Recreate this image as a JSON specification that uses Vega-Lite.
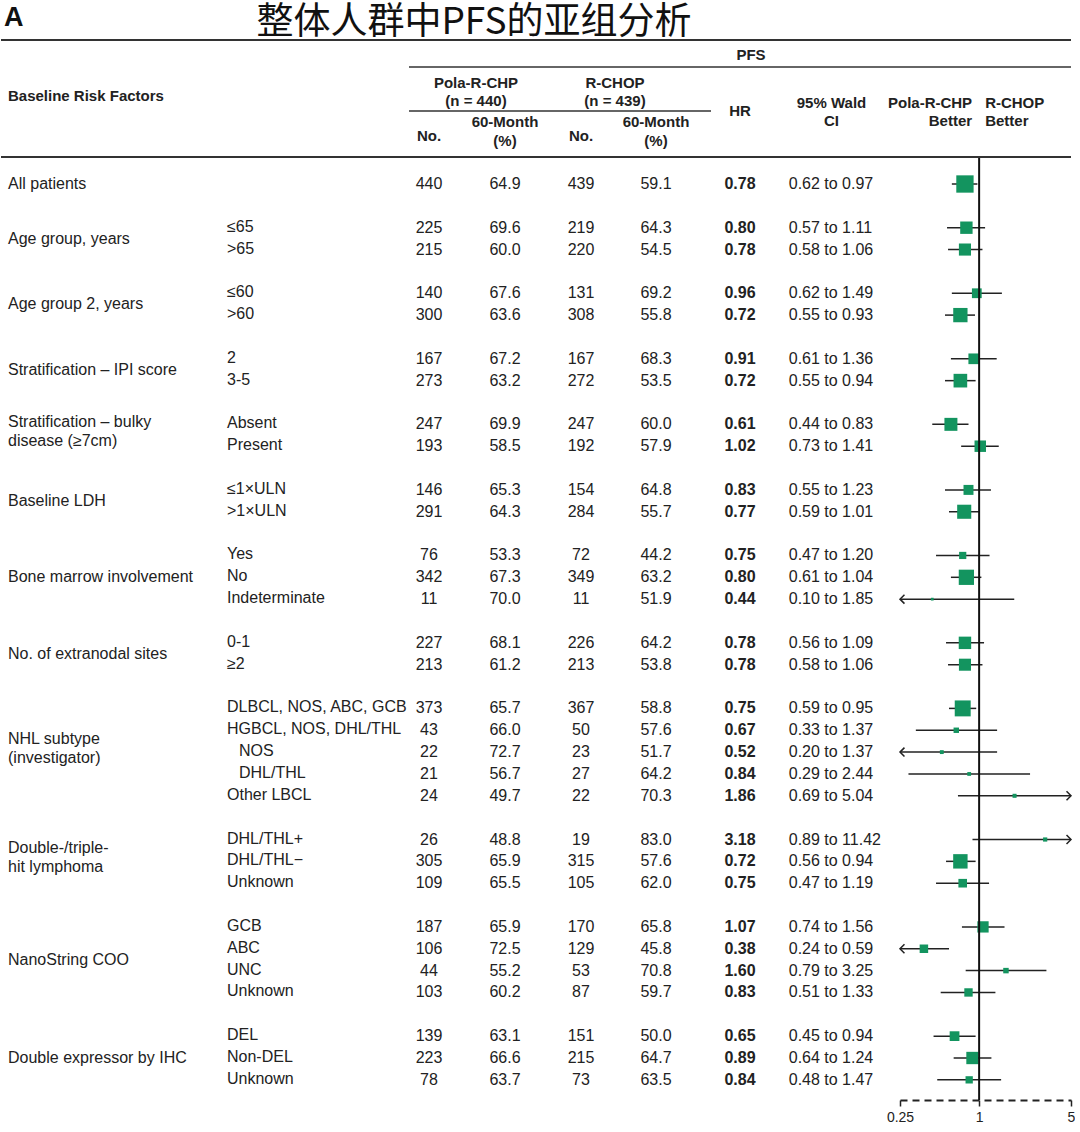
{
  "$schema": "https://vega.github.io/schema/vega-lite/v6.json",
  "padding": 0,
  "background": "white",
  "spacing": 0,
  "bounds": "flush",
  "config": {
    "view": {"stroke": null},
    "text": {"font": "Liberation Sans", "fontSize": 16, "color": "#222", "baseline": "middle"},
    "rule": {"color": "#333"},
    "concat": {"spacing": 0}
  },
  "datasets": {
    "pfs": [
      {"group":"All patients","sub":"","n1":440,"p1":64.9,"n2":439,"p2":59.1,"hr":0.78,"lo":0.62,"hi":0.97,"row":0},
      {"group":"Age group, years","sub":"≤65","n1":225,"p1":69.6,"n2":219,"p2":64.3,"hr":0.80,"lo":0.57,"hi":1.11,"row":2},
      {"group":"Age group, years","sub":">65","n1":215,"p1":60.0,"n2":220,"p2":54.5,"hr":0.78,"lo":0.58,"hi":1.06,"row":3},
      {"group":"Age group 2, years","sub":"≤60","n1":140,"p1":67.6,"n2":131,"p2":69.2,"hr":0.96,"lo":0.62,"hi":1.49,"row":5},
      {"group":"Age group 2, years","sub":">60","n1":300,"p1":63.6,"n2":308,"p2":55.8,"hr":0.72,"lo":0.55,"hi":0.93,"row":6},
      {"group":"Stratification – IPI score","sub":"2","n1":167,"p1":67.2,"n2":167,"p2":68.3,"hr":0.91,"lo":0.61,"hi":1.36,"row":8},
      {"group":"Stratification – IPI score","sub":"3-5","n1":273,"p1":63.2,"n2":272,"p2":53.5,"hr":0.72,"lo":0.55,"hi":0.94,"row":9},
      {"group":"Stratification – bulky\ndisease (≥7cm)","sub":"Absent","n1":247,"p1":69.9,"n2":247,"p2":60.0,"hr":0.61,"lo":0.44,"hi":0.83,"row":11},
      {"group":"Stratification – bulky\ndisease (≥7cm)","sub":"Present","n1":193,"p1":58.5,"n2":192,"p2":57.9,"hr":1.02,"lo":0.73,"hi":1.41,"row":12},
      {"group":"Baseline LDH","sub":"≤1×ULN","n1":146,"p1":65.3,"n2":154,"p2":64.8,"hr":0.83,"lo":0.55,"hi":1.23,"row":14},
      {"group":"Baseline LDH","sub":">1×ULN","n1":291,"p1":64.3,"n2":284,"p2":55.7,"hr":0.77,"lo":0.59,"hi":1.01,"row":15},
      {"group":"Bone marrow involvement","sub":"Yes","n1":76,"p1":53.3,"n2":72,"p2":44.2,"hr":0.75,"lo":0.47,"hi":1.20,"row":17},
      {"group":"Bone marrow involvement","sub":"No","n1":342,"p1":67.3,"n2":349,"p2":63.2,"hr":0.80,"lo":0.61,"hi":1.04,"row":18},
      {"group":"Bone marrow involvement","sub":"Indeterminate","n1":11,"p1":70.0,"n2":11,"p2":51.9,"hr":0.44,"lo":0.10,"hi":1.85,"row":19},
      {"group":"No. of extranodal sites","sub":"0-1","n1":227,"p1":68.1,"n2":226,"p2":64.2,"hr":0.78,"lo":0.56,"hi":1.09,"row":21},
      {"group":"No. of extranodal sites","sub":"≥2","n1":213,"p1":61.2,"n2":213,"p2":53.8,"hr":0.78,"lo":0.58,"hi":1.06,"row":22},
      {"group":"NHL subtype\n(investigator)","sub":"DLBCL, NOS, ABC, GCB","n1":373,"p1":65.7,"n2":367,"p2":58.8,"hr":0.75,"lo":0.59,"hi":0.95,"row":24},
      {"group":"NHL subtype\n(investigator)","sub":"HGBCL, NOS, DHL/THL","n1":43,"p1":66.0,"n2":50,"p2":57.6,"hr":0.67,"lo":0.33,"hi":1.37,"row":25},
      {"group":"NHL subtype\n(investigator)","sub":"NOS","parent":"HGBCL, NOS, DHL/THL","n1":22,"p1":72.7,"n2":23,"p2":51.7,"hr":0.52,"lo":0.20,"hi":1.37,"row":26},
      {"group":"NHL subtype\n(investigator)","sub":"DHL/THL","parent":"HGBCL, NOS, DHL/THL","n1":21,"p1":56.7,"n2":27,"p2":64.2,"hr":0.84,"lo":0.29,"hi":2.44,"row":27},
      {"group":"NHL subtype\n(investigator)","sub":"Other LBCL","n1":24,"p1":49.7,"n2":22,"p2":70.3,"hr":1.86,"lo":0.69,"hi":5.04,"row":28},
      {"group":"Double-/triple-\nhit lymphoma","sub":"DHL/THL+","n1":26,"p1":48.8,"n2":19,"p2":83.0,"hr":3.18,"lo":0.89,"hi":11.42,"row":30},
      {"group":"Double-/triple-\nhit lymphoma","sub":"DHL/THL−","n1":305,"p1":65.9,"n2":315,"p2":57.6,"hr":0.72,"lo":0.56,"hi":0.94,"row":31},
      {"group":"Double-/triple-\nhit lymphoma","sub":"Unknown","n1":109,"p1":65.5,"n2":105,"p2":62.0,"hr":0.75,"lo":0.47,"hi":1.19,"row":32},
      {"group":"NanoString COO","sub":"GCB","n1":187,"p1":65.9,"n2":170,"p2":65.8,"hr":1.07,"lo":0.74,"hi":1.56,"row":34},
      {"group":"NanoString COO","sub":"ABC","n1":106,"p1":72.5,"n2":129,"p2":45.8,"hr":0.38,"lo":0.24,"hi":0.59,"row":35},
      {"group":"NanoString COO","sub":"UNC","n1":44,"p1":55.2,"n2":53,"p2":70.8,"hr":1.60,"lo":0.79,"hi":3.25,"row":36},
      {"group":"NanoString COO","sub":"Unknown","n1":103,"p1":60.2,"n2":87,"p2":59.7,"hr":0.83,"lo":0.51,"hi":1.33,"row":37},
      {"group":"Double expressor by IHC","sub":"DEL","n1":139,"p1":63.1,"n2":151,"p2":50.0,"hr":0.65,"lo":0.45,"hi":0.94,"row":39},
      {"group":"Double expressor by IHC","sub":"Non-DEL","n1":223,"p1":66.6,"n2":215,"p2":64.7,"hr":0.89,"lo":0.64,"hi":1.24,"row":40},
      {"group":"Double expressor by IHC","sub":"Unknown","n1":78,"p1":63.7,"n2":73,"p2":63.5,"hr":0.84,"lo":0.48,"hi":1.47,"row":41}
    ]
  },
  "hconcat": [
    {
      "width": 220, "height": 1100,
      "layer": [
        {"data": {"values": [{}]}, "mark": {"type": "rule", "strokeWidth": 2}, "encoding": {"y": {"datum": -6.59, "type": "quantitative", "scale": {"domain": [-8.421, 41.922], "reverse": true, "nice": false, "zero": false}, "axis": null}}},
        {"data": {"values": [{}]}, "mark": {"type": "rule", "strokeWidth": 2}, "encoding": {"y": {"datum": -1.236, "type": "quantitative", "axis": null}}},
        {"data": {"values": [{}]}, "mark": {"type": "text", "text": "A", "fontSize": 27, "fontWeight": "bold", "align": "left", "dx": 3, "color": "#111"},
         "encoding": {"x": {"datum": 1, "type": "quantitative", "scale": {"domain": [1, 2], "zero": false, "nice": false}, "axis": null}, "y": {"datum": -7.597, "type": "quantitative", "axis": null}}},
        {"data": {"values": [{}]}, "mark": {"type": "text", "text": "Baseline Risk Factors", "fontSize": 15, "fontWeight": "bold", "align": "left", "dx": 7},
         "encoding": {"x": {"datum": 1, "type": "quantitative", "axis": null}, "y": {"datum": -4.027, "type": "quantitative", "axis": null}}},
        {"data": {"name": "pfs"},
         "transform": [{"aggregate": [{"op": "mean", "field": "row", "as": "mid"}], "groupby": ["group"]}, {"filter": "indexof(datum.group, '\\n') < 0"}],
         "mark": {"type": "text", "align": "left", "dx": 7},
         "encoding": {"x": {"datum": 1, "type": "quantitative", "axis": null}, "y": {"field": "mid", "type": "quantitative", "axis": null}, "text": {"field": "group", "type": "nominal"}}},
        {"data": {"name": "pfs"},
         "transform": [{"aggregate": [{"op": "mean", "field": "row", "as": "mid"}], "groupby": ["group"]}, {"filter": "indexof(datum.group, '\\n') >= 0"}],
         "mark": {"type": "text", "align": "left", "dx": 7, "dy": -13, "lineBreak": "\n", "lineHeight": 19},
         "encoding": {"x": {"datum": 1, "type": "quantitative", "axis": null}, "y": {"field": "mid", "type": "quantitative", "axis": null}, "text": {"field": "group", "type": "nominal"}}}
      ]
    },
    {
      "width": 188, "height": 1100,
      "layer": [
        {"data": {"values": [{}]}, "mark": {"type": "rule", "strokeWidth": 2}, "encoding": {"y": {"datum": -6.59, "type": "quantitative", "scale": {"domain": [-8.421, 41.922], "reverse": true, "nice": false, "zero": false}, "axis": null}}},
        {"data": {"values": [{}]}, "mark": {"type": "rule", "strokeWidth": 2}, "encoding": {"y": {"datum": -1.236, "type": "quantitative", "axis": null}}},
        {"data": {"name": "pfs"}, "transform": [{"filter": "!datum.parent"}],
         "mark": {"type": "text", "align": "left", "dx": 6, "dy": -1},
         "encoding": {"x": {"datum": 1, "type": "quantitative", "scale": {"domain": [1, 2], "zero": false, "nice": false}, "axis": null}, "y": {"field": "row", "type": "quantitative", "axis": null}, "text": {"field": "sub", "type": "nominal"}}},
        {"data": {"name": "pfs"}, "transform": [{"filter": "datum.parent"}],
         "mark": {"type": "text", "align": "left", "dx": 18, "dy": -1},
         "encoding": {"x": {"datum": 1, "type": "quantitative", "axis": null}, "y": {"field": "row", "type": "quantitative", "axis": null}, "text": {"field": "sub", "type": "nominal"}}}
      ]
    },
    {
      "width": 40, "height": 1100,
      "layer": [
        {"data": {"values": [{}]}, "mark": {"type": "rule", "strokeWidth": 2}, "encoding": {"y": {"datum": -6.59, "type": "quantitative", "scale": {"domain": [-8.421, 41.922], "reverse": true, "nice": false, "zero": false}, "axis": null}}},
        {"data": {"values": [{}]}, "mark": {"type": "rule", "strokeWidth": 1.5}, "encoding": {"y": {"datum": -5.355, "type": "quantitative", "axis": null}}},
        {"data": {"values": [{}]}, "mark": {"type": "rule", "strokeWidth": 1.3}, "encoding": {"y": {"datum": -3.341, "type": "quantitative", "axis": null}}},
        {"data": {"values": [{}]}, "mark": {"type": "rule", "strokeWidth": 2}, "encoding": {"y": {"datum": -1.236, "type": "quantitative", "axis": null}}},
        {"data": {"values": [{}]}, "mark": {"type": "text", "text": "No.", "fontSize": 15, "fontWeight": "bold"}, "encoding": {"y": {"datum": -2.197, "type": "quantitative", "axis": null}}},
        {"data": {"name": "pfs"}, "mark": {"type": "text"}, "encoding": {"y": {"field": "row", "type": "quantitative", "axis": null}, "text": {"field": "n1", "type": "quantitative"}}}
      ]
    },
    {
      "width": 112, "height": 1100,
      "layer": [
        {"data": {"values": [{}]}, "mark": {"type": "rule", "strokeWidth": 2}, "encoding": {"y": {"datum": -6.59, "type": "quantitative", "scale": {"domain": [-8.421, 41.922], "reverse": true, "nice": false, "zero": false}, "axis": null}}},
        {"data": {"values": [{}]}, "mark": {"type": "rule", "strokeWidth": 1.5}, "encoding": {"y": {"datum": -5.355, "type": "quantitative", "axis": null}}},
        {"data": {"values": [{}]}, "mark": {"type": "rule", "strokeWidth": 1.3}, "encoding": {"y": {"datum": -3.341, "type": "quantitative", "axis": null}}},
        {"data": {"values": [{}]}, "mark": {"type": "rule", "strokeWidth": 2}, "encoding": {"y": {"datum": -1.236, "type": "quantitative", "axis": null}}},
        {"data": {"values": [{}]}, "mark": {"type": "text", "text": "整体人群中PFS的亚组分析", "font": "Noto Sans CJK SC", "fontSize": 37, "color": "#111", "dx": -31}, "encoding": {"y": {"datum": -7.368, "type": "quantitative", "axis": null}}},
        {"data": {"values": [{}]}, "mark": {"type": "text", "text": "Pola-R-CHP", "fontSize": 15, "fontWeight": "bold", "dx": -29}, "encoding": {"y": {"datum": -4.622, "type": "quantitative", "axis": null}}},
        {"data": {"values": [{}]}, "mark": {"type": "text", "text": "(n = 440)", "fontSize": 15, "fontWeight": "bold", "dx": -29}, "encoding": {"y": {"datum": -3.799, "type": "quantitative", "axis": null}}},
        {"data": {"values": [{}]}, "mark": {"type": "text", "text": "60-Month", "fontSize": 15, "fontWeight": "bold"}, "encoding": {"y": {"datum": -2.838, "type": "quantitative", "axis": null}}},
        {"data": {"values": [{}]}, "mark": {"type": "text", "text": "(%)", "fontSize": 15, "fontWeight": "bold"}, "encoding": {"y": {"datum": -1.968, "type": "quantitative", "axis": null}}},
        {"data": {"name": "pfs"}, "mark": {"type": "text"}, "encoding": {"y": {"field": "row", "type": "quantitative", "axis": null}, "text": {"field": "p1", "type": "quantitative", "format": ".1f"}}}
      ]
    },
    {
      "width": 40, "height": 1100,
      "layer": [
        {"data": {"values": [{}]}, "mark": {"type": "rule", "strokeWidth": 2}, "encoding": {"y": {"datum": -6.59, "type": "quantitative", "scale": {"domain": [-8.421, 41.922], "reverse": true, "nice": false, "zero": false}, "axis": null}}},
        {"data": {"values": [{}]}, "mark": {"type": "rule", "strokeWidth": 1.5}, "encoding": {"y": {"datum": -5.355, "type": "quantitative", "axis": null}}},
        {"data": {"values": [{}]}, "mark": {"type": "rule", "strokeWidth": 1.3}, "encoding": {"y": {"datum": -3.341, "type": "quantitative", "axis": null}}},
        {"data": {"values": [{}]}, "mark": {"type": "rule", "strokeWidth": 2}, "encoding": {"y": {"datum": -1.236, "type": "quantitative", "axis": null}}},
        {"data": {"values": [{}]}, "mark": {"type": "text", "text": "No.", "fontSize": 15, "fontWeight": "bold"}, "encoding": {"y": {"datum": -2.197, "type": "quantitative", "axis": null}}},
        {"data": {"name": "pfs"}, "mark": {"type": "text"}, "encoding": {"y": {"field": "row", "type": "quantitative", "axis": null}, "text": {"field": "n2", "type": "quantitative"}}}
      ]
    },
    {
      "width": 110, "height": 1100,
      "layer": [
        {"data": {"values": [{}]}, "mark": {"type": "rule", "strokeWidth": 2}, "encoding": {"y": {"datum": -6.59, "type": "quantitative", "scale": {"domain": [-8.421, 41.922], "reverse": true, "nice": false, "zero": false}, "axis": null}}},
        {"data": {"values": [{}]}, "mark": {"type": "rule", "strokeWidth": 1.5}, "encoding": {"y": {"datum": -5.355, "type": "quantitative", "axis": null}}},
        {"data": {"values": [{}]}, "mark": {"type": "rule", "strokeWidth": 1.3}, "encoding": {"y": {"datum": -3.341, "type": "quantitative", "axis": null}}},
        {"data": {"values": [{}]}, "mark": {"type": "rule", "strokeWidth": 2}, "encoding": {"y": {"datum": -1.236, "type": "quantitative", "axis": null}}},
        {"data": {"values": [{}]}, "mark": {"type": "text", "text": "R-CHOP", "fontSize": 15, "fontWeight": "bold", "dx": -41}, "encoding": {"y": {"datum": -4.622, "type": "quantitative", "axis": null}}},
        {"data": {"values": [{}]}, "mark": {"type": "text", "text": "(n = 439)", "fontSize": 15, "fontWeight": "bold", "dx": -41}, "encoding": {"y": {"datum": -3.799, "type": "quantitative", "axis": null}}},
        {"data": {"values": [{}]}, "mark": {"type": "text", "text": "60-Month", "fontSize": 15, "fontWeight": "bold"}, "encoding": {"y": {"datum": -2.838, "type": "quantitative", "axis": null}}},
        {"data": {"values": [{}]}, "mark": {"type": "text", "text": "(%)", "fontSize": 15, "fontWeight": "bold"}, "encoding": {"y": {"datum": -1.968, "type": "quantitative", "axis": null}}},
        {"data": {"name": "pfs"}, "mark": {"type": "text"}, "encoding": {"y": {"field": "row", "type": "quantitative", "axis": null}, "text": {"field": "p2", "type": "quantitative", "format": ".1f"}}}
      ]
    },
    {
      "width": 58, "height": 1100,
      "layer": [
        {"data": {"values": [{}]}, "mark": {"type": "rule", "strokeWidth": 2}, "encoding": {"y": {"datum": -6.59, "type": "quantitative", "scale": {"domain": [-8.421, 41.922], "reverse": true, "nice": false, "zero": false}, "axis": null}}},
        {"data": {"values": [{}]}, "mark": {"type": "rule", "strokeWidth": 1.5}, "encoding": {"y": {"datum": -5.355, "type": "quantitative", "axis": null}}},
        {"data": {"values": [{}]}, "mark": {"type": "rule", "strokeWidth": 2}, "encoding": {"y": {"datum": -1.236, "type": "quantitative", "axis": null}}},
        {"data": {"values": [{}]}, "mark": {"type": "text", "text": "PFS", "fontSize": 15, "fontWeight": "bold", "dx": 11}, "encoding": {"y": {"datum": -5.904, "type": "quantitative", "axis": null}}},
        {"data": {"values": [{}]}, "mark": {"type": "text", "text": "HR", "fontSize": 15, "fontWeight": "bold"}, "encoding": {"y": {"datum": -3.341, "type": "quantitative", "axis": null}}},
        {"data": {"name": "pfs"}, "mark": {"type": "text", "fontWeight": "bold"}, "encoding": {"y": {"field": "row", "type": "quantitative", "axis": null}, "text": {"field": "hr", "type": "quantitative", "format": ".2f"}}}
      ]
    },
    {
      "width": 131, "height": 1100,
      "layer": [
        {"data": {"values": [{}]}, "mark": {"type": "rule", "strokeWidth": 2}, "encoding": {"y": {"datum": -6.59, "type": "quantitative", "scale": {"domain": [-8.421, 41.922], "reverse": true, "nice": false, "zero": false}, "axis": null}}},
        {"data": {"values": [{}]}, "mark": {"type": "rule", "strokeWidth": 1.5}, "encoding": {"y": {"datum": -5.355, "type": "quantitative", "axis": null}}},
        {"data": {"values": [{}]}, "mark": {"type": "rule", "strokeWidth": 2}, "encoding": {"y": {"datum": -1.236, "type": "quantitative", "axis": null}}},
        {"data": {"values": [{}]}, "mark": {"type": "text", "text": "95% Wald", "fontSize": 15, "fontWeight": "bold", "dx": -3}, "encoding": {"y": {"datum": -3.707, "type": "quantitative", "axis": null}}},
        {"data": {"values": [{}]}, "mark": {"type": "text", "text": "CI", "fontSize": 15, "fontWeight": "bold", "dx": -3}, "encoding": {"y": {"datum": -2.883, "type": "quantitative", "axis": null}}},
        {"data": {"name": "pfs"}, "mark": {"type": "text", "align": "right", "dx": -14.6}, "encoding": {"y": {"field": "row", "type": "quantitative", "axis": null}, "text": {"field": "lo", "type": "quantitative", "format": ".2f"}}},
        {"data": {"name": "pfs"}, "mark": {"type": "text", "text": "to", "dx": -3.5}, "encoding": {"y": {"field": "row", "type": "quantitative", "axis": null}}},
        {"data": {"name": "pfs"}, "mark": {"type": "text", "align": "left", "dx": 7.6}, "encoding": {"y": {"field": "row", "type": "quantitative", "axis": null}, "text": {"field": "hi", "type": "quantitative", "format": ".2f"}}}
      ]
    },
    {
      "width": 171, "height": 1100,
      "layer": [
        {"data": {"name": "pfs"}, "mark": {"type": "rule", "strokeWidth": 1.5, "color": "#222"},
         "encoding": {
           "x": {"field": "lo", "type": "quantitative", "title": null,
                 "scale": {"type": "log", "domain": [0.25, 5], "clamp": true, "nice": false},
                 "axis": {"values": [0.25, 1, 5], "format": "~g", "title": null, "grid": false, "domainDash": [7, 5], "domainColor": "#222", "domainWidth": 2, "tickColor": "#222", "tickSize": 6, "tickWidth": 1.5, "labelFontSize": 14, "labelColor": "#222", "labelFont": "Liberation Sans", "labelPadding": 4, "labelFlush": false}},
           "x2": {"field": "hi"},
           "y": {"field": "row", "type": "quantitative", "scale": {"domain": [-8.421, 41.922], "reverse": true, "nice": false, "zero": false}, "axis": null}}},
        {"data": {"name": "pfs"}, "mark": {"type": "point", "shape": "square", "filled": true, "color": "#13945f", "opacity": 1},
         "encoding": {
           "x": {"field": "hr", "type": "quantitative", "title": null},
           "y": {"field": "row", "type": "quantitative", "axis": null},
           "size": {"field": "n1", "type": "quantitative", "scale": {"domain": [0, 440], "range": [0, 300]}, "legend": null}}},
        {"data": {"name": "pfs"}, "transform": [{"filter": "datum.lo < 0.25"}],
         "mark": {"type": "point", "shape": "M1,-1L0,0L1,1", "filled": false, "stroke": "#222", "strokeWidth": 1.5, "size": 80, "opacity": 1},
         "encoding": {"x": {"field": "lo", "type": "quantitative", "title": null}, "y": {"field": "row", "type": "quantitative", "axis": null}}},
        {"data": {"name": "pfs"}, "transform": [{"filter": "datum.hi > 5"}],
         "mark": {"type": "point", "shape": "M-1,-1L0,0L-1,1", "filled": false, "stroke": "#222", "strokeWidth": 1.5, "size": 80, "opacity": 1},
         "encoding": {"x": {"field": "hi", "type": "quantitative", "title": null}, "y": {"field": "row", "type": "quantitative", "axis": null}}},
        {"data": {"values": [{}]}, "mark": {"type": "rule", "strokeWidth": 2, "color": "#111"},
         "encoding": {"x": {"datum": 1, "type": "quantitative", "title": null}, "y": {"datum": -1.236, "type": "quantitative", "axis": null}, "y2": {"datum": 41.922}}},
        {"data": {"values": [{}]}, "mark": {"type": "rule", "strokeWidth": 2}, "encoding": {"y": {"datum": -6.59, "type": "quantitative", "axis": null}}},
        {"data": {"values": [{}]}, "mark": {"type": "rule", "strokeWidth": 1.5}, "encoding": {"y": {"datum": -5.355, "type": "quantitative", "axis": null}}},
        {"data": {"values": [{}]}, "mark": {"type": "rule", "strokeWidth": 2}, "encoding": {"y": {"datum": -1.236, "type": "quantitative", "axis": null}}},
        {"data": {"values": [{}]}, "mark": {"type": "text", "text": "Pola-R-CHP", "fontSize": 15, "fontWeight": "bold", "align": "right", "dx": -7},
         "encoding": {"x": {"datum": 1, "type": "quantitative", "title": null}, "y": {"datum": -3.707, "type": "quantitative", "axis": null}}},
        {"data": {"values": [{}]}, "mark": {"type": "text", "text": "Better", "fontSize": 15, "fontWeight": "bold", "align": "right", "dx": -7},
         "encoding": {"x": {"datum": 1, "type": "quantitative", "title": null}, "y": {"datum": -2.883, "type": "quantitative", "axis": null}}},
        {"data": {"values": [{}]}, "mark": {"type": "text", "text": "R-CHOP", "fontSize": 15, "fontWeight": "bold", "align": "left", "dx": 6},
         "encoding": {"x": {"datum": 1, "type": "quantitative", "title": null}, "y": {"datum": -3.707, "type": "quantitative", "axis": null}}},
        {"data": {"values": [{}]}, "mark": {"type": "text", "text": "Better", "fontSize": 15, "fontWeight": "bold", "align": "left", "dx": 6},
         "encoding": {"x": {"datum": 1, "type": "quantitative", "title": null}, "y": {"datum": -2.883, "type": "quantitative", "axis": null}}}
      ]
    }
  ]
}
